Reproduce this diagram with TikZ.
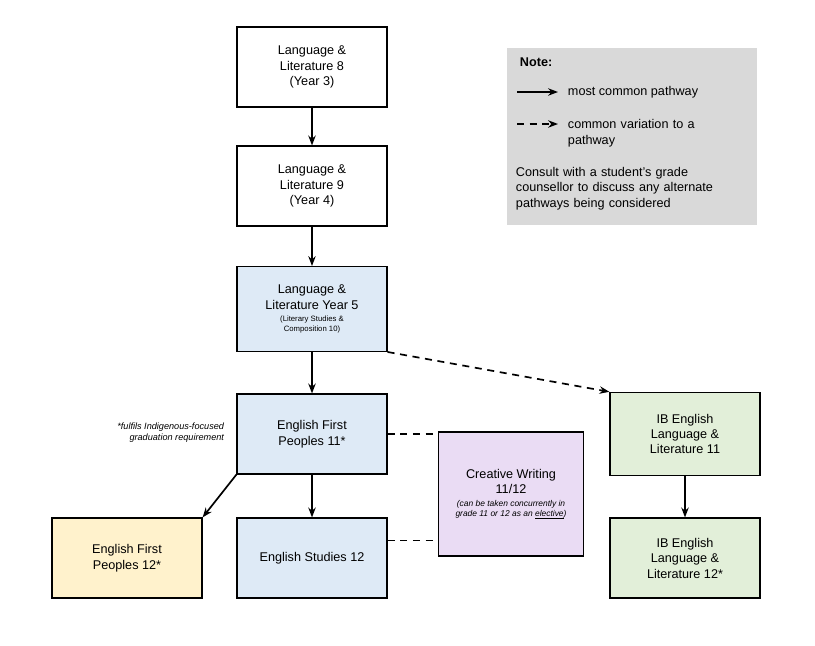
\documentclass[tikz,border=0pt]{standalone}
\usepackage{fontspec}
\setmainfont{Liberation Sans}
\usetikzlibrary{positioning,arrows.meta}
\definecolor{bluebox}{HTML}{DEEAF6}
\definecolor{yellowbox}{HTML}{FFF2CC}
\definecolor{lilacbox}{HTML}{EADCF4}
\definecolor{greenbox}{HTML}{E2EFD9}
\definecolor{notebox}{HTML}{D9D9D9}
\tikzset{
  course/.style={draw,thick,minimum width=3.75cm,minimum height=2cm,align=center,font=\small},
  path/.style={very thick,-{Stealth[length=7pt]}},
  alt/.style={very thick,dashed,dash pattern=on 5pt off 4pt},
}
\begin{document}
\begin{tikzpicture}[x=0.025cm,y=-0.025cm]
			\useasboundingbox (0,0) rectangle (815,645);

			\node[course] (ll8) at (312,67) {Language \&\\Literature 8\\(Year 3)};
			\node[course] (ll9) at (312,186) {Language \&\\Literature 9\\(Year 4)};
			\node[course,fill=bluebox,minimum height=2.12cm] (ll10) at (312,309) {Language \&\\Literature Year 5\\[-2pt]{\fontsize{5.5}{6.5}\selectfont (Literary Studies \&}\\[-4pt]{\fontsize{5.5}{6.5}\selectfont Composition 10)}};
			\node[course,fill=bluebox] (efp11) at (312,434) {English First\\Peoples 11*};
			\node[course,fill=bluebox] (es12) at (312,558) {English Studies 12};
			\node[course,fill=yellowbox] (efp12) at (127,558) {English First\\Peoples 12*};
			\node[course,fill=lilacbox,minimum width=3.62cm,minimum height=3.1cm] (cw) at (511,494) {Creative Writing\\11/12\\[-2pt]{\fontsize{6}{7}\selectfont\itshape (can be taken concurrently in}\\[-4pt]{\fontsize{6}{7}\selectfont\itshape grade 11 or 12 as an \underline{elective})}};
			\node[course,fill=greenbox,minimum height=2.08cm] (ib11) at (685,434) {IB English\\Language \&\\Literature 11};
			\node[course,fill=greenbox] (ib12) at (685,558) {IB English\\Language \&\\Literature 12*};

			\node[font=\fontsize{6.5}{8}\selectfont\itshape,align=right,anchor=east] (fn) at (229,433) {*fulfils Indigenous-focused\\graduation requirement};

			% note box
			\fill[notebox] (507,48) rectangle (757,225);
			\node[anchor=west,font=\small\bfseries] (nt) at (515,62) {Note:};
			\coordinate (s1) at (517,92);
			\coordinate (s2) at (558,92);
			\coordinate (d1) at (517,124);
			\coordinate (d2) at (558,124);
			\draw[path] (s1) -- (s2);
			\draw[alt,-{Stealth[length=7pt]}] (d1) -- (d2);
			\node[anchor=west,font=\small] (t1) at (563,92) {most common pathway};
			\node[anchor=west,font=\small,align=left,text width=4cm] (t2) at (563,133) {common variation to a\\pathway};
			\node[anchor=north west,font=\small,align=left,text width=6cm] (t3) at (511,162) {Consult with a student’s grade\\counsellor to discuss any alternate\\pathways being considered};

			\draw[path] (ll8) -- (ll9);
			\draw[path] (ll9) -- (ll10);
			\draw[path] (ll10) -- (efp11);
			\draw[path] (efp11) -- (es12);
			\draw[path] (efp11.south west) -- (efp12.north east);
			\draw[path] (ib11) -- (ib12);
			\draw[alt,-{Stealth[length=7pt]}] (ll10.south east) -- (ib11.north west);
			\draw[alt] (efp11.east) -- (efp11.east -| cw.west);
			\draw[alt] (es12.north east) ++(0,23) coordinate (e1) -- (e1 -| cw.west);
		\end{tikzpicture}
\end{document}
